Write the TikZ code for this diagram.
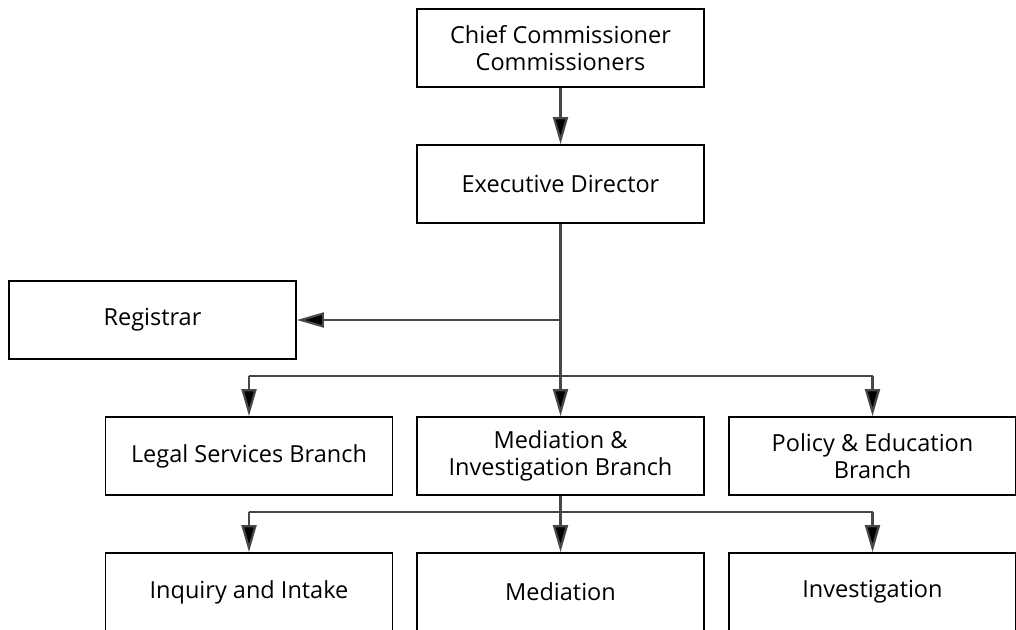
\documentclass[tikz,border=0pt]{standalone}
\usepackage{fontspec}
\setmainfont{Open Sans}
\usetikzlibrary{arrows.meta}
\begin{document}
\begin{tikzpicture}[x=1pt,y=-1pt,
  box/.style={draw=black,line width=1.9pt,minimum width=287pt,minimum height=78pt,
    inner sep=0pt,align=center,font=\fontsize{23.5}{27}\selectfont,fill=white},
  conn/.style={draw=black!72,line width=2.2pt},
  arr/.style={conn,-{Triangle[length=27pt,width=15pt,fill=black]}}]
\useasboundingbox (0,0) rectangle (1016,629);
\clip (0,0) rectangle (1016,629);
\node[box] (chief) at (560.5,48) {Chief Commissioner\\Commissioners};
\node[box] (exec) at (560.5,184) {Executive Director};
\node[box] (reg) at (152.5,320) {Registrar};
\node[box] (legal) at (249,456) {Legal Services Branch};
\node[box] (medinv) at (560.5,456) {Mediation \&\\Investigation Branch};
\node[box] (policy) at (872.5,456) {Policy \& Education\\Branch};
\node[box] (inq) at (249,592) {Inquiry and Intake};
\node[box] (med) at (560.5,592) {Mediation};
\node[box] (inv) at (872.5,592) {Investigation};
\coordinate (regj) at (560.5,320);
\coordinate (bl) at (249,376);
\coordinate (br) at (872.5,376);
\coordinate (sl) at (249,512);
\coordinate (sr) at (872.5,512);
\draw[arr] (chief.south) -- (exec.north);
\draw[arr] (exec.south) -- (medinv.north);
\draw[arr] (regj) -- (reg.east);
\draw[conn] (bl) -- (br);
\draw[arr] (bl) -- (legal.north);
\draw[arr] (br) -- (policy.north);
\draw[arr] (medinv.south) -- (med.north);
\draw[conn] (sl) -- (sr);
\draw[arr] (sl) -- (inq.north);
\draw[arr] (sr) -- (inv.north);
\end{tikzpicture}
\end{document}
